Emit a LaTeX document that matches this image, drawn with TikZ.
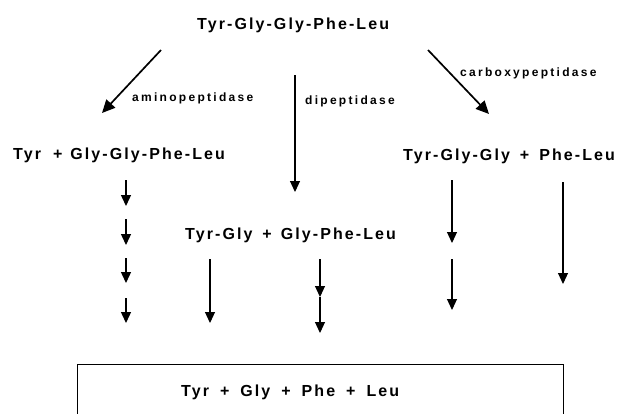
\documentclass[tikz,border=0pt]{standalone}
\usepackage{fontspec}
\usetikzlibrary{arrows.meta}
\newfontfamily\pepfont{Liberation Sans}[LetterSpace=13]
\newfontfamily\enzfont{Liberation Sans}[LetterSpace=19]
% a plus sign with its own space before and after (in pt)
\newcommand\pl[2]{\hspace{#1pt}+\hspace{#2pt}}
\begin{document}
\begin{tikzpicture}[x=1pt,y=-1pt,
  peptide/.style={anchor=base west,inner sep=0pt,font=\pepfont\bfseries\fontsize{16}{18}\selectfont},
  enzyme/.style={anchor=base west,inner sep=0pt,font=\enzfont\bfseries\fontsize{12}{14}\selectfont},
  bigarrow/.style={line width=1.7pt,-{Triangle[length=13pt,width=12pt]}},
  cutarrow/.style={line width=1.4pt,-{Triangle[length=11pt,width=10pt]}},
  longarrow/.style={line width=1.1pt,-{Triangle[length=11pt,width=10pt]}}]
\useasboundingbox (0,0) rectangle (618,413);

% peptide species
\node[peptide] (pent) at (197,29) {Tyr-Gly-Gly-Phe-Leu};
\node[peptide] (amino) at (13,159) {Tyr\pl{12}{8}Gly-Gly-Phe-Leu};
\node[peptide] (carboxy) at (403,160) {Tyr-Gly-Gly\pl{10}{10}Phe-Leu};
\node[peptide] (dipep) at (185,239) {Tyr-Gly\pl{10}{9}Gly-Phe-Leu};
\node[peptide] (free) at (181,396) {Tyr\pl{11}{11}Gly\pl{11}{11}Phe\pl{11}{11}Leu};

% enzyme labels
\node[enzyme] (lamino) at (132,101) {aminopeptidase};
\node[enzyme] (ldipep) at (305,104) {dipeptidase};
\node[enzyme] (lcarboxy) at (460,76) {carboxypeptidase};

% arrow end points
\coordinate (a1s) at (161,50);  \coordinate (a1e) at (102,113);
\coordinate (a2s) at (295,75);  \coordinate (a2e) at (295,192);
\coordinate (a3s) at (428,50);  \coordinate (a3e) at (489,114);

\coordinate (l1) at (126,180); \coordinate (l2) at (126,206);
\coordinate (l3) at (126,219); \coordinate (l4) at (126,245);
\coordinate (l5) at (126,258); \coordinate (l6) at (126,283);
\coordinate (l7) at (126,298); \coordinate (l8) at (126,323);

\coordinate (ty1) at (210,259); \coordinate (ty2) at (210,323);
\coordinate (gp1) at (320,259); \coordinate (gp2) at (320,297); \coordinate (gp3) at (320,333);
\coordinate (tg1) at (452,180); \coordinate (tg2) at (452,243);
\coordinate (tg3) at (452,259); \coordinate (tg4) at (452,310);
\coordinate (pl1) at (563,182); \coordinate (pl2) at (563,284);

% first cleavages
\draw[bigarrow] (a1s) -- (a1e);
\draw[longarrow] (a2s) -- (a2e);
\draw[bigarrow] (a3s) -- (a3e);

% stepwise breakdown
\draw[cutarrow] (l1) -- (l2);
\draw[cutarrow] (l3) -- (l4);
\draw[cutarrow] (l5) -- (l6);
\draw[cutarrow] (l7) -- (l8);
\draw[longarrow] (ty1) -- (ty2);
\draw[longarrow] (gp1) -- (gp2);
\draw[longarrow] (gp2) -- (gp3);
\draw[longarrow] (tg1) -- (tg2);
\draw[longarrow] (tg3) -- (tg4);
\draw[longarrow] (pl1) -- (pl2);

% frame round the free amino acids
\coordinate (bl) at (77,420);
\coordinate (tl) at (77,364);
\coordinate (tr) at (563,364);
\coordinate (br) at (563,420);
\draw[line width=1pt] (bl) -- (tl) -- (tr) -- (br);
\end{tikzpicture}
\end{document}
